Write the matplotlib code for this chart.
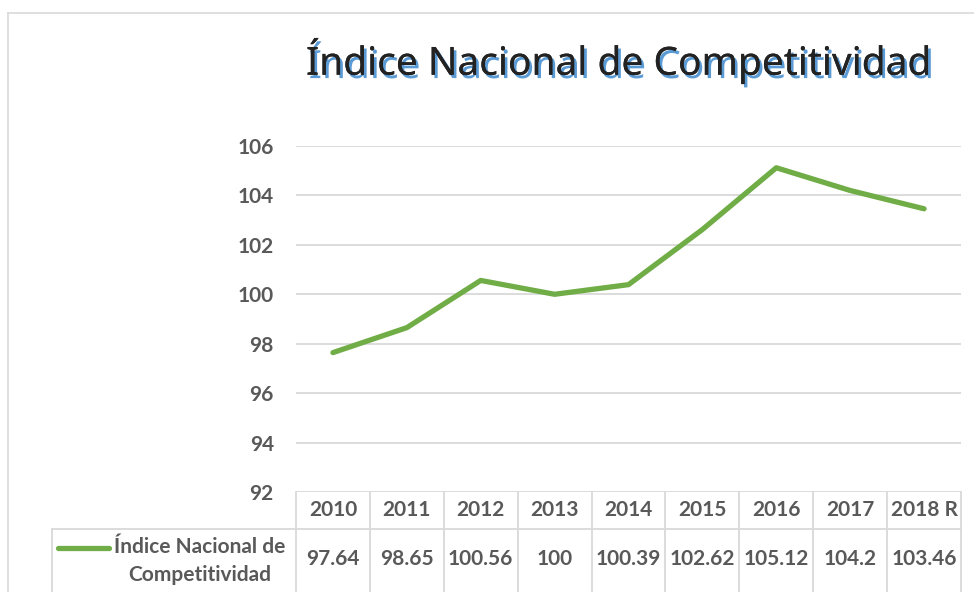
import matplotlib
matplotlib.use("Agg")
import matplotlib.pyplot as plt
import matplotlib.patheffects as pe
from matplotlib.lines import Line2D
from matplotlib.transforms import blended_transform_factory

# ---- data ----
years = ["2010", "2011", "2012", "2013", "2014", "2015", "2016", "2017", "2018 R"]
values = [97.64, 98.65, 100.56, 100.0, 100.39, 102.62, 105.12, 104.2, 103.46]
value_labels = ["97.64", "98.65", "100.56", "100", "100.39", "102.62", "105.12", "104.2", "103.46"]
series_name = ["Índice Nacional de", "Competitividad"]
title = "Índice Nacional de Competitividad"
yticks = [92, 94, 96, 98, 100, 102, 104, 106]

W, H = 974, 592
fig = plt.figure(figsize=(W / 100, H / 100), dpi=100)
fig.patch.set_facecolor("white")

def fx(px):
    return px / W

def fy(py):
    return 1 - py / H

GRID = "#d9d9d9"
TXT = "#595959"
GREEN = "#70ad47"
FONT = "Lato"
FS = 15

# outer frame
fig.add_artist(Line2D([fx(8), 1.0], [fy(13), fy(13)], color=GRID, lw=1.2, transform=fig.transFigure))
fig.add_artist(Line2D([fx(8), fx(8)], [fy(13), 0.0], color=GRID, lw=1.2, transform=fig.transFigure))

ax = fig.add_axes([fx(296), fy(492), fx(961) - fx(296), fy(146) - fy(492)])
x = list(range(len(years)))
ax.plot(x, values, color=GREEN, lw=3.8, solid_capstyle="round", solid_joinstyle="round", zorder=3)
ax.set_xlim(-0.5, len(years) - 0.5)
ax.set_ylim(92, 106)
ax.set_yticks(yticks)
ax.set_yticklabels([str(t) for t in yticks], fontfamily=FONT, fontweight="bold", fontsize=FS, color=TXT)
ax.set_xticks([])
ax.tick_params(axis="y", length=0, pad=16)
for s in ax.spines.values():
    s.set_visible(False)
ax.grid(axis="y", color=GRID, lw=1.3)
ax.set_axisbelow(True)

# ---- data table ----
bt = blended_transform_factory(ax.transData, fig.transFigure)
y_top = fy(492)
y_mid = fy(529)
for i in range(len(years) + 1):
    fig.add_artist(Line2D([i - 0.5, i - 0.5], [y_top, 0.0], color=GRID, lw=1.3, transform=bt, clip_on=False))
fig.add_artist(Line2D([fx(52), fx(961)], [y_mid, y_mid], color=GRID, lw=1.3, transform=fig.transFigure))
fig.add_artist(Line2D([fx(52), fx(52)], [y_mid, 0.0], color=GRID, lw=1.3, transform=fig.transFigure))

for i, (yr, vl) in enumerate(zip(years, value_labels)):
    fig.text(i, fy(510), yr, transform=bt, ha="center", va="center",
             fontfamily=FONT, fontweight="bold", fontsize=FS, color=TXT)
    fig.text(i, fy(559), vl, transform=bt, ha="center", va="center",
             fontfamily=FONT, fontweight="bold", fontsize=FS, color=TXT)

# legend key
fig.add_artist(Line2D([fx(58), fx(109)], [fy(548), fy(548)], color=GREEN, lw=3.8,
                      solid_capstyle="round", transform=fig.transFigure))
fig.text(fx(200), fy(547), series_name[0], ha="center", va="center",
         fontfamily=FONT, fontweight="bold", fontsize=FS, color=TXT)
fig.text(fx(200), fy(575), series_name[1], ha="center", va="center",
         fontfamily=FONT, fontweight="bold", fontsize=FS, color=TXT)

# title with blue shadow
fig.text(fx(618), fy(61), title, ha="center", va="center", fontfamily="Noto Sans",
         fontsize=28, fontweight="semibold", color="#222222",
         path_effects=[pe.withSimplePatchShadow(offset=(2.0, -2.4), shadow_rgbFace="#5b9bd5", alpha=1.0),
                       pe.Normal()])

fig.savefig("out.png", dpi=100, facecolor="white")
